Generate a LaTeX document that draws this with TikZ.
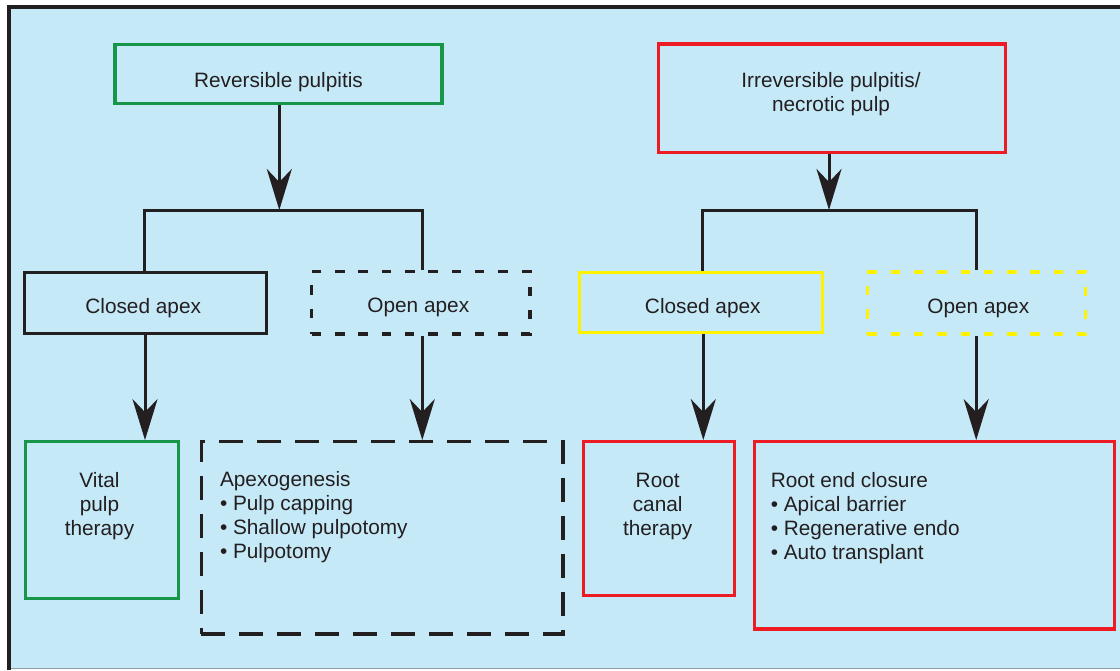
\documentclass[tikz,border=0pt]{standalone}
\usepackage{fontspec}
\setmainfont{Liberation Sans}
\usetikzlibrary{arrows.meta}
\definecolor{bg}{HTML}{C6E9F8}
\definecolor{ink}{HTML}{231F20}
\definecolor{gbox}{HTML}{17964A}
\definecolor{rbox}{HTML}{ED1C24}
\definecolor{ybox}{HTML}{FFF200}
\definecolor{edge}{HTML}{8C9BA5}
\begin{document}
\begin{tikzpicture}[x=1pt,y=-1pt,
  bx/.style={draw, line width=3.3pt, inner sep=0pt},
  txt/.style={font=\fontsize{20.8}{24}\selectfont, text=ink, inner sep=0pt, anchor=base},
  txtl/.style={txt, anchor=base west},
  conn/.style={draw=ink, line width=3pt},
  arr/.style={conn, -{Stealth[length=41pt,width=25pt,inset=13pt]}},
  smalldash/.style={dash pattern=on 9.5pt off 13.8pt},
  bigdash/.style={dash pattern=on 24pt off 14pt}
]
\useasboundingbox (0,0) rectangle (1120,670);
% frame and background
\fill[white] (0,0) rectangle (1120,670);
\fill[bg] (8,7) rectangle (1120,668.5);
\draw[edge, line width=1.3pt] (8,668.5) -- (1120,668.5);
\draw[ink, line width=4.3pt] (8.8,670) -- (8.8,7.2) -- (1120,7.2);

% boxes
\node[bx, draw=gbox, minimum width=327pt, minimum height=59pt] (rp) at (278.5,74) {};
\node[bx, draw=rbox, minimum width=347pt, minimum height=108.5pt] (ir) at (832,98.25) {};
\node[bx, draw=ink, minimum width=242.4pt, minimum height=60.6pt] (ca1) at (145.5,303) {};
\node[bx, draw=ink, smalldash, minimum width=218.3pt, minimum height=62.3pt] (oa1) at (420.85,302.85) {};
\node[bx, draw=ybox, minimum width=243.4pt, minimum height=60.4pt] (ca2) at (701,302.5) {};
\node[bx, draw=ybox, smalldash, minimum width=218.4pt, minimum height=62pt] (oa2) at (976.5,303) {};
\node[bx, draw=gbox, minimum width=152.8pt, minimum height=156.5pt] (vpt) at (101.9,520) {};
\node[bx, draw=ink, bigdash, minimum width=361.7pt, minimum height=192.3pt] (apx) at (382.15,537.85) {};
\node[bx, draw=rbox, minimum width=150.9pt, minimum height=154pt] (rct) at (658.75,518.7) {};
\node[bx, draw=rbox, minimum width=359.6pt, minimum height=187.3pt] (rec) at (934.6,535.35) {};

% texts
\node[txt] (trp) at (278.5,87.3) {Reversible pulpitis};
\node[txt] (tir) at (831,87.5) {\begin{tabular}[t]{@{}c@{}}Irreversible pulpitis/\\necrotic pulp\end{tabular}};
\node[txt] (tca1) at (143.2,313.3) {Closed apex};
\node[txt] (toa1) at (418.3,312.6) {Open apex};
\node[txt] (tca2) at (702.8,313.8) {Closed apex};
\node[txt] (toa2) at (978.3,313) {Open apex};
\node[txt] (tvpt) at (99.5,487.3) {\begin{tabular}[t]{@{}c@{}}Vital\\pulp\\therapy\end{tabular}};
\node[txtl] (tapx) at (219.8,486.7) {\begin{tabular}[t]{@{}l@{}}Apexogenesis\\• Pulp capping\\• Shallow pulpotomy\\• Pulpotomy\end{tabular}};
\node[txt] (trct) at (657.7,487.3) {\begin{tabular}[t]{@{}c@{}}Root\\canal\\therapy\end{tabular}};
\node[txtl] (trec) at (770.6,487.3) {\begin{tabular}[t]{@{}l@{}}Root end closure\\• Apical barrier\\• Regenerative endo\\• Auto transplant\end{tabular}};

% junctions
\coordinate (j1) at (279.3,210);
\coordinate (j2) at (829,210);

% connectors
\draw[arr] (rp.south -| j1) -- (j1);
\draw[conn] (ca1.north -| 144,0) |- (j1) -| (oa1.north -| 422.3,0);
\draw[arr] (ir.south -| j2) -- (j2);
\draw[conn] (ca2.north -| 702.7,0) |- (j2) -| (oa2.north -| 976,0);

\draw[arr] (ca1.south -| 145,0) -- (vpt.north -| 145,0);
\draw[arr] (oa1.south -| 422.3,0) -- (apx.north -| 422.3,0);
\draw[arr] (ca2.south -| 703.3,0) -- (rct.north -| 703.3,0);
\draw[arr] (oa2.south -| 976.2,0) -- (rec.north -| 976.2,0);
\end{tikzpicture}
\end{document}
